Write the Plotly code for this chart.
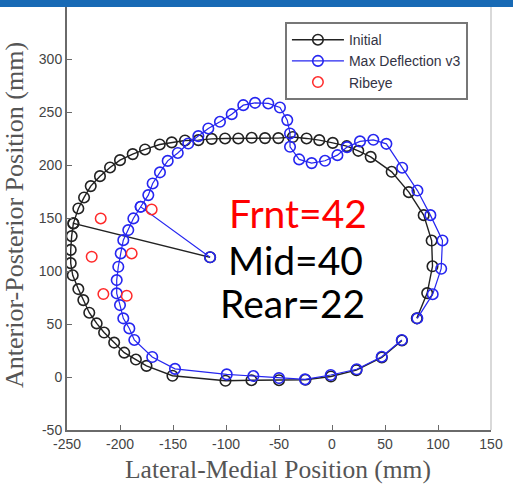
import plotly.graph_objects as go

# Initial contour: segment A (centroid -> left side -> bottom) and segment B (right side -> top -> left)
init_a_x = [-115, -244, -245.6, -246.5, -246.5, -244.6, -239.3, -234.6, -229, -222, -215, -205.5, -196, -185, -175, -150.5, -100.5, -76, -50, -25, -1, 23, 47, 66]
init_a_y = [113, 145, 133, 120, 107.5, 96, 83, 72.6, 60.7, 50.6, 42, 32.5, 23, 16.5, 10.5, 1.2, -3.5, -3, -3, -2.5, 0.5, 6.5, 18.5, 34.5]
init_b_x = [80, 89.8, 94.8, 94, 86.5, 72.5, 56.3, 36.5, 24.8, 13.9, 0.7, -12, -24, -37, -50.6, -63.2, -75.8, -88.4, -100.9, -113.5, -126.1, -138.7, -151.2, -162.5, -176.4, -188, -200, -209.4, -218.9, -227.6, -233.9, -239.3, -244]
init_b_y = [55.4, 79.2, 104.5, 128.8, 152.8, 174.5, 193.7, 207.8, 213.5, 217.9, 221, 223.6, 225.2, 226.5, 225.5, 225.5, 225.8, 225.2, 225.2, 224.8, 223.6, 223.3, 221.5, 219.5, 214.8, 210.4, 204.7, 197.8, 189.6, 180.2, 169.5, 159.1, 145]

# Max deflection contour
maxd_a_x = [-115, -180.5, -187.4, -192.2, -196.9, -199.3, -201.6, -203.1, -203.1, -200, -196.9, -191.2, -186.5, -169.6, -148.1, -99.3, -74.2, -50, -25.5, -1.2, 23.3, 46.9, 65.8]
maxd_a_y = [113, 160.7, 149.7, 138.7, 129.2, 116.7, 104.1, 91.5, 79, 67.9, 55.4, 45.9, 35, 18.9, 7.7, 2.5, 0.9, -1, -2.2, 1.9, 7.3, 19.2, 34.9]
maxd_b_x = [80.5, 95, 103, 104.2, 92.8, 80.6, 66.2, 51.3, 39, 26.4, 14.2, 5.1, -6.6, -19.2, -31, -39.6, -39.6, -42.2, -49.1, -60.1, -72.6, -83.7, -94.6, -105.7, -116.7, -126.1, -135.6, -145.5, -155, -162.3, -169.2, -173.3, -180.5]
maxd_b_y = [55.4, 78.2, 102.2, 128.9, 152.8, 176, 197.6, 220.1, 223.9, 222.4, 217, 209.4, 204.1, 201.9, 205.4, 217.3, 229.9, 242.5, 254.4, 258.2, 258.8, 256.6, 248.1, 240.9, 234.6, 227.4, 220.4, 211.5, 204, 193.2, 182.7, 171.7, 160.7]

rib_x = [-218.2, -170.1, -226.7, -189, -215.7, -193.7]
rib_y = [149.7, 158.2, 113.5, 116.7, 78.3, 76.7]

x_ticks = [-250, -200, -150, -100, -50, 0, 50, 100, 150]
y_ticks = [-50, 0, 50, 100, 150, 200, 250, 300, 350]

labels = ["Frnt=42", "Mid=40", "Rear=22"]
label_x = [-32, -34.4, -37.3]
label_y = [154.5, 110.5, 69.5]
label_col = ["#ff0000", "#000000", "#000000"]

x_title = "Lateral-Medial Position (mm)"
y_title = "Anterior-Posterior Position (mm)"

BLACK = "#222222"
BLUE = "#2626f0"

fig = go.Figure()
fig.add_trace(go.Scatter(
    x=init_a_x + [None] + init_b_x, y=init_a_y + [None] + init_b_y,
    mode="lines+markers", name="Initial", connectgaps=False,
    line=dict(color=BLACK, width=1.4),
    marker=dict(symbol="circle-open", size=10.5, color=BLACK, line=dict(width=1.6)),
))
fig.add_trace(go.Scatter(
    x=maxd_a_x + [None] + maxd_b_x, y=maxd_a_y + [None] + maxd_b_y,
    mode="lines+markers", name="Max Deflection v3", connectgaps=False,
    line=dict(color=BLUE, width=1.2),
    marker=dict(symbol="circle-open", size=10.5, color=BLUE, line=dict(width=1.6)),
))
fig.add_trace(go.Scatter(
    x=rib_x, y=rib_y, mode="markers", name="Ribeye",
    marker=dict(symbol="circle-open", size=10.5, color="#ff2a2a", line=dict(width=1.5)),
))

for t, x, y, c in zip(labels, label_x, label_y, label_col):
    fig.add_annotation(x=x, y=y, text=t, showarrow=False, xanchor="center", yanchor="middle",
                       font=dict(family="Lato", size=39, color=c))

fig.add_annotation(xref="paper", yref="paper", x=0.4976, y=-0.0925, text=x_title, showarrow=False,
                   xanchor="center", yanchor="middle",
                   font=dict(family="Liberation Serif", size=25.5, color="#555555"))
fig.add_annotation(xref="paper", yref="paper", x=-0.125, y=0.507, text=y_title, showarrow=False,
                   textangle=-90, xanchor="center", yanchor="middle",
                   font=dict(family="Liberation Serif", size=26, color="#555555"))

axis_common = dict(showgrid=False, zeroline=False, showline=True, linecolor="#6a6a6a", linewidth=2,
                   ticks="inside", ticklen=5, tickcolor="#6a6a6a", tickwidth=1, automargin=False,
                   tickfont=dict(family="Liberation Sans", size=14, color="#444444"))
fig.update_xaxes(range=[-250, 150], tickvals=x_ticks, ticktext=[str(v) for v in x_ticks], **axis_common)
fig.update_yaxes(range=[-50, 350.2], tickvals=y_ticks, ticktext=[str(v) for v in y_ticks], **axis_common)

fig.add_shape(type="line", xref="paper", yref="paper", x0=1, x1=1, y0=0, y1=1,
              line=dict(color="#cccccc", width=1.5), layer="above")
fig.add_shape(type="rect", xref="paper", yref="paper", x0=-0.3, x1=1.2, y0=0.9975, y1=1.03,
              fillcolor="#186ab5", line=dict(width=0), layer="above")

fig.update_layout(
    width=513, height=484,
    margin=dict(l=67, r=22, t=6, b=54),
    plot_bgcolor="white", paper_bgcolor="white",
    showlegend=True,
    legend=dict(x=0.514, y=0.962, xanchor="left", yanchor="top",
                bgcolor="white", bordercolor="#777777", borderwidth=2,
                font=dict(family="Liberation Sans", size=14, color="#333344"),
                tracegroupgap=0, itemwidth=52),
)

fig.write_html("out.html")
